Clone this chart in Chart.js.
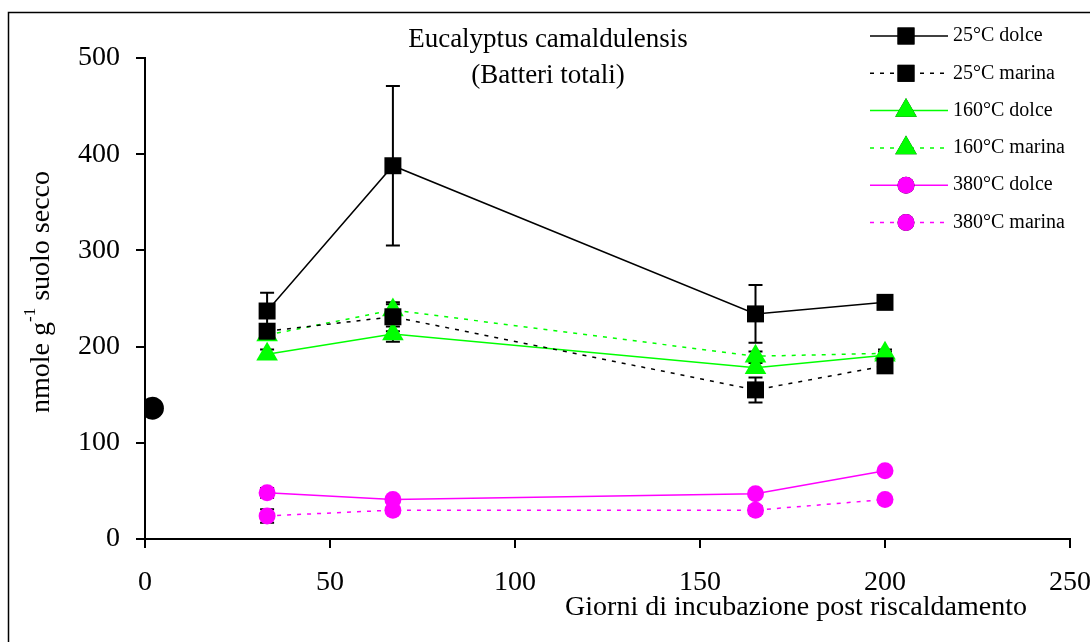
<!DOCTYPE html>
<html>
<head>
<meta charset="utf-8">
<script src="https://cdn.jsdelivr.net/npm/chart.js@4.4.1/dist/chart.umd.min.js"></script>
<style>
  html, body { margin: 0; padding: 0; background: #fff; }
  #wrap { width: 1090px; height: 642px; }
</style>
</head>
<body>
<div id="wrap"><canvas id="grafico" width="1090" height="642"></canvas></div>
<script>
// giorni di campionamento
const days = [33, 67, 165, 200];

const labels = ['25°C dolce', '25°C marina', '160°C dolce', '160°C marina', '380°C dolce', '380°C marina'];

const dolce25 = [237, 388, 234, 246];
const marina25 = [216, 231, 155, 180];
const dolce160 = [192, 213, 178, 191];
const marina160 = [212, 238, 190, 193];
const dolce380 = [48, 41, 47, 71];
const marina380 = [24, 30, 30, 41];

// errori standard
const errDolce25 = [19, 83, 30, 4];
const errMarina25 = [5, 15, 13, 5];
const errDolce160 = [5, 8, 5, 4];
const errMarina160 = [4, 6, 5, 4];
const errDolce380 = [5, 3, 2, 2];
const errMarina380 = [7, 3, 4, 2];

// controllo non riscaldato
const controlDay = [2];
const controlValue = [136];

const xTicks = [0, 50, 100, 150, 200, 250];
const yTicks = [0, 100, 200, 300, 400, 500];

const FONT = "'Liberation Serif', 'Times New Roman', serif";
const green = '#00ff00';
const magenta = '#ff00ff';

const pts = (vals) => vals.map((v, i) => ({ x: days[i], y: v }));

function serie(label, vals, errs, color, shape, radius, dashed) {
  return {
    label: label,
    data: pts(vals),
    errors: errs,
    borderColor: color,
    backgroundColor: color,
    borderWidth: 1.5,
    borderDash: dashed ? [4, 6] : [],
    pointStyle: shape,
    pointRadius: radius,
    pointBorderWidth: 0,
    pointBackgroundColor: color,
    tension: 0
  };
}

const datasets = [
  serie(labels[0], dolce25, errDolce25, '#000', 'rect', 12, false),
  serie(labels[1], marina25, errMarina25, '#000', 'rect', 12, true),
  serie(labels[2], dolce160, errDolce160, green, 'triangle', 12.5, false),
  serie(labels[3], marina160, errMarina160, green, 'triangle', 12.5, true),
  serie(labels[4], dolce380, errDolce380, magenta, 'circle', 8.5, false),
  serie(labels[5], marina380, errMarina380, magenta, 'circle', 8.5, true),
  {
    label: 'controllo',
    data: controlDay.map((d, i) => ({ x: d, y: controlValue[i] })),
    showLine: false,
    pointStyle: 'circle',
    pointRadius: 11.5,
    pointBorderWidth: 0,
    pointBackgroundColor: '#000',
    borderColor: '#000',
    noLegend: true
  }
];

// barre di errore, sotto i marcatori
const errorBars = {
  id: 'errorBars',
  beforeDatasetsDraw(chart) {
    const { ctx, scales: { x, y } } = chart;
    ctx.save();
    ctx.strokeStyle = '#000';
    ctx.lineWidth = 2;
    chart.data.datasets.forEach(ds => {
      if (!ds.errors) return;
      ds.data.forEach((p, i) => {
        const e = ds.errors[i];
        const px = x.getPixelForValue(p.x);
        const top = y.getPixelForValue(p.y + e);
        const bot = y.getPixelForValue(p.y - e);
        ctx.beginPath();
        ctx.moveTo(px, top); ctx.lineTo(px, bot);
        ctx.moveTo(px - 7, top); ctx.lineTo(px + 7, top);
        ctx.moveTo(px - 7, bot); ctx.lineTo(px + 7, bot);
        ctx.stroke();
      });
    });
    ctx.restore();
  }
};

// titoli, legenda e cornice
const extras = {
  id: 'extras',
  afterDraw(chart) {
    const ctx = chart.ctx;
    ctx.save();
    ctx.fillStyle = '#000';

    // cornice esterna
    ctx.strokeStyle = '#000';
    ctx.lineWidth = 1.5;
    ctx.strokeRect(8.5, 12.5, 1100, 660);

    // titolo
    ctx.font = '27px ' + FONT;
    ctx.textAlign = 'center';
    ctx.textBaseline = 'middle';
    ctx.fillText('Eucalyptus camaldulensis', 548, 40);
    ctx.fillText('(Batteri totali)', 548, 76);

    // titolo asse x
    ctx.font = '28px ' + FONT;
    ctx.fillText('Giorni di incubazione post riscaldamento', 796, 608);

    // titolo asse y con apice
    ctx.translate(42, 292);
    ctx.rotate(-Math.PI / 2);
    const a = 'nmole g', sup = '-1', b = ' suolo secco';
    ctx.font = '28px ' + FONT;
    const wa = ctx.measureText(a).width, wb = ctx.measureText(b).width;
    ctx.font = '17px ' + FONT;
    const ws = ctx.measureText(sup).width;
    let sx = -(wa + ws + wb) / 2;
    ctx.textAlign = 'left';
    ctx.font = '28px ' + FONT;
    ctx.fillText(a, sx, 0);
    ctx.font = '17px ' + FONT;
    ctx.fillText(sup, sx + wa, -11);
    ctx.font = '28px ' + FONT;
    ctx.fillText(b, sx + wa + ws, 0);
    ctx.setTransform(1, 0, 0, 1, 0, 0);

    // legenda
    const meta = chart.data.datasets.filter(d => !d.noLegend);
    meta.forEach((ds, i) => {
      const yy = 36 + i * 37.3;
      ctx.strokeStyle = ds.borderColor;
      ctx.lineWidth = 1.5;
      ctx.setLineDash(ds.borderDash);
      ctx.beginPath();
      ctx.moveTo(870, yy); ctx.lineTo(948, yy);
      ctx.stroke();
      ctx.setLineDash([]);
      Chart.helpers.drawPoint(ctx, {
        pointStyle: ds.pointStyle,
        radius: ds.pointRadius,
        rotation: 0,
        borderWidth: 0
      }, 906, yy);
      ctx.fillStyle = ds.backgroundColor;
      ctx.fill();
      ctx.fillStyle = '#000';
      ctx.font = '20px ' + FONT;
      ctx.textAlign = 'left';
      ctx.textBaseline = 'middle';
      ctx.fillText(ds.label, 953, yy);
    });
    ctx.restore();
  }
};

new Chart(document.getElementById('grafico'), {
  type: 'line',
  data: { datasets: datasets },
  plugins: [errorBars, extras],
  options: {
    responsive: false,
    animation: false,
    layout: { padding: { left: 0, top: 58, right: 20, bottom: 0 } },
    plugins: { legend: { display: false }, tooltip: { enabled: false }, title: { display: false } },
    scales: {
      x: {
        type: 'linear',
        min: 0, max: 250,
        afterBuildTicks: (s) => { s.ticks = xTicks.map(v => ({ value: v })); },
        afterFit: (s) => { s.height = 103; s.paddingLeft = 0; s.paddingRight = 0; },
        ticks: { color: '#000', font: { family: FONT, size: 28 }, padding: 18, maxRotation: 0 },
        grid: { display: true, drawOnChartArea: false, drawTicks: true, tickLength: 9, color: '#000', lineWidth: 2 },
        border: { display: true, color: '#000', width: 2 }
      },
      y: {
        min: 0, max: 500,
        afterBuildTicks: (s) => { s.ticks = yTicks.map(v => ({ value: v })); },
        afterFit: (s) => { s.width = 145; s.paddingTop = 0; s.paddingBottom = 0; },
        ticks: { color: '#000', font: { family: FONT, size: 28 }, padding: 16 },
        grid: { display: true, drawOnChartArea: false, drawTicks: true, tickLength: 9, color: '#000', lineWidth: 2 },
        border: { display: true, color: '#000', width: 2 }
      }
    }
  }
});
</script>
</body>
</html>
